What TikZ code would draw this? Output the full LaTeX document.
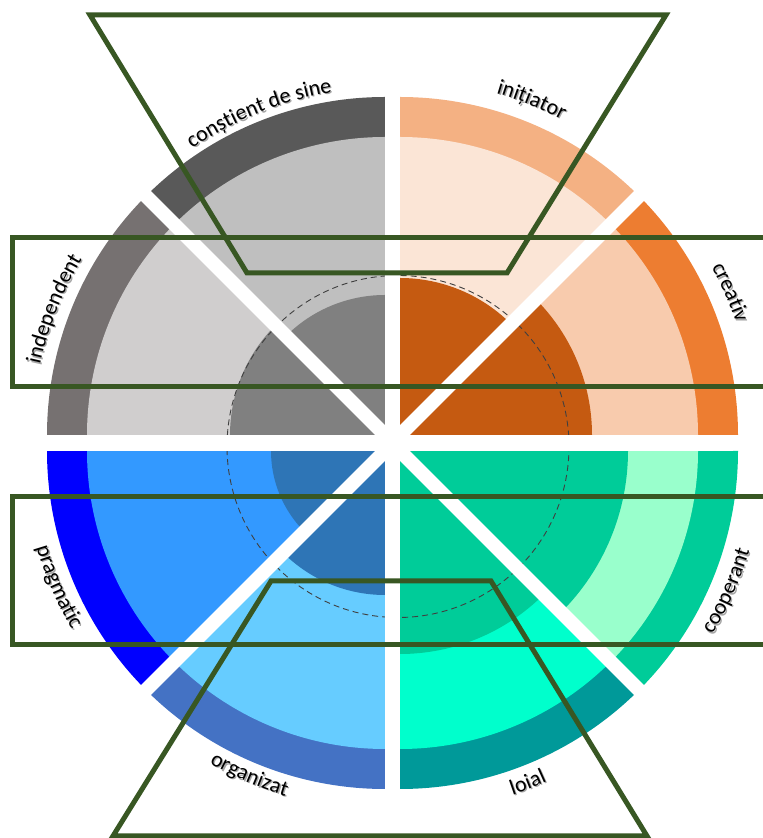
\documentclass[tikz,border=0pt]{standalone}
\usepackage{fontspec}
\usetikzlibrary{decorations.text}
\newfontfamily\wheelfont{Carlito}
\newcommand\wheellabel{\wheelfont\fontsize{22}{22}\selectfont}
\definecolor{selfring}{HTML}{595959}
\definecolor{selfmid}{HTML}{BFBFBF}
\definecolor{indring}{HTML}{767171}
\definecolor{indmid}{HTML}{D0CECE}
\definecolor{greycore}{HTML}{808080}
\definecolor{initring}{HTML}{F4B183}
\definecolor{initmid}{HTML}{FBE5D6}
\definecolor{crearing}{HTML}{ED7D31}
\definecolor{creamid}{HTML}{F8CBAD}
\definecolor{orangecore}{HTML}{C55A11}
\definecolor{pragring}{HTML}{0000FF}
\definecolor{pragmid}{HTML}{3399FF}
\definecolor{orgring}{HTML}{4472C4}
\definecolor{orgmid}{HTML}{66CCFF}
\definecolor{bluecore}{HTML}{2E75B6}
\definecolor{coopring}{HTML}{00CC99}
\definecolor{coopmid}{HTML}{99FFCC}
\definecolor{loialring}{HTML}{009999}
\definecolor{loialmid}{HTML}{00FFCC}
\definecolor{greencore}{HTML}{00CC99}
\definecolor{framegreen}{HTML}{385723}
\definecolor{guidegray}{HTML}{404040}
\definecolor{labelshadow}{HTML}{A6A6A6}
\newcommand\wheeltext[4]{%
  \path[decorate,decoration={text along path,text align=center,text={|\wheellabel\color{labelshadow}|#4}}]
    ([shift={(1.3,-1.3)}]g) ++(#1+#3*30:#2) arc[start angle=#1+#3*30,end angle=#1-#3*30,radius=#2];
  \path[decorate,decoration={text along path,text align=center,text={|\wheellabel|#4}}]
    (g) ++(#1+#3*30:#2) arc[start angle=#1+#3*30,end angle=#1-#3*30,radius=#2];
}

\begin{document}
\begin{tikzpicture}[x=1pt,y=1pt,
  frame/.style={draw=framegreen,line width=5pt,line join=miter},
  gap/.style={draw=white,line width=14pt,line cap=rect},
  guide/.style={draw=guidegray,line width=0.9pt,dash pattern=on 6pt off 4pt}]
\useasboundingbox (0,0) rectangle (763,838);
\clip (0,0) rectangle (763,838);
\coordinate (g)  at (392.5,395);
\coordinate (tl) at (385,403);
\coordinate (tr) at (400,403);
\coordinate (bl) at (385,387);
\coordinate (br) at (400,387);
\foreach \q/\a/\b/\rc/\cring/\cmid/\ccore in {
    tl/90/135/140/selfring/selfmid/greycore,
    tl/135/180/155/indring/indmid/greycore,
    tr/45/90/157/initring/initmid/orangecore,
    tr/0/45/192/crearing/creamid/orangecore,
    bl/180/225/114/pragring/pragmid/bluecore,
    bl/225/270/144/orgring/orgmid/bluecore,
    br/270/315/203/loialring/loialmid/greencore,
    br/315/360/228/coopring/coopmid/greencore}
{
  \fill[\cring] (\q) -- ++(\a:338) arc[start angle=\a,end angle=\b,radius=338] -- cycle;
  \fill[\cmid]  (\q) -- ++(\a:298) arc[start angle=\a,end angle=\b,radius=298] -- cycle;
  \fill[\ccore] (\q) -- ++(\a:\rc) arc[start angle=\a,end angle=\b,radius=\rc] -- cycle;
}
\draw[guide] (398,391.5) circle[radius=171];
\fill[white] (385,30) rectangle (400,808);
\fill[white] (30,387) rectangle (733,403);
\draw[gap] (tl) -- ++(135:345);
\draw[gap] (tr) -- ++(45:345);
\draw[gap] (bl) -- ++(225:345);
\draw[gap] (br) -- ++(315:345);
\wheeltext{112}{356}{1}{conștient de sine}
\wheeltext{67.9}{365}{1}{inițiator}
\wheeltext{24}{364}{1}{creativ}
\wheeltext{158.4}{361}{1}{independent}
\wheeltext{203.3}{371}{-1}{pragmatic}
\wheeltext{246.7}{369}{-1}{organizat}
\wheeltext{291.7}{372}{-1}{loial}
\wheeltext{336.1}{373}{-1}{cooperant}
\draw[frame] (90,823) -- (666,823) -- (507,565) -- (247,565) -- cycle;
\draw[frame] (775,600) -- (12,600) -- (12,451) -- (775,451);
\draw[frame] (775,341) -- (12,341) -- (12,193) -- (775,193);
\draw[frame] (271,257) -- (491,257) -- (647,2) -- (113,2) -- cycle;
\end{tikzpicture}
\end{document}
